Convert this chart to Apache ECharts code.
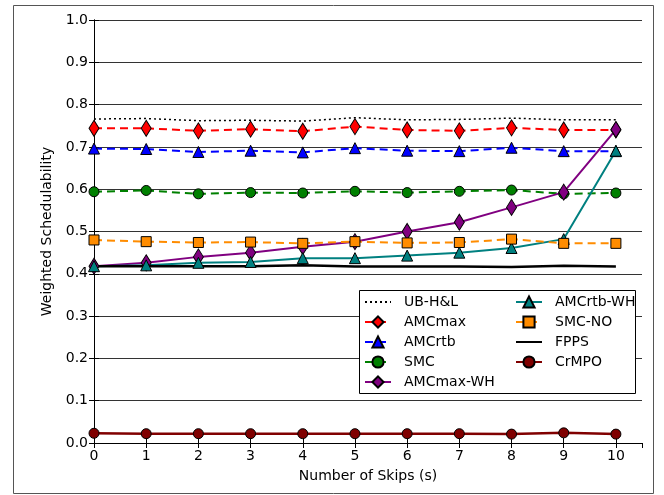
<!DOCTYPE html>
<html>
<head>
<meta charset="utf-8">
<script src="https://cdn.jsdelivr.net/npm/echarts@6/dist/echarts.min.js"></script>
<style>html,body{margin:0;padding:0;background:#fff}#c{width:664px;height:495px}</style>
</head>
<body>
<div id="c"></div>
<script>
var skips = [0, 1, 2, 3, 4, 5, 6, 7, 8, 9, 10];
var yTicks = [0, 0.1, 0.2, 0.3, 0.4, 0.5, 0.6, 0.7, 0.8, 0.9, 1.0];
var ubHL      = [0.766, 0.767, 0.762, 0.763, 0.761, 0.769, 0.764, 0.765, 0.768, 0.764, 0.764];
var amcMax    = [0.744, 0.744, 0.738, 0.742, 0.737, 0.748, 0.740, 0.738, 0.745, 0.740, 0.740];
var amcRtb    = [0.696, 0.695, 0.688, 0.691, 0.687, 0.697, 0.691, 0.690, 0.698, 0.690, 0.690];
var smc       = [0.594, 0.597, 0.589, 0.592, 0.591, 0.595, 0.592, 0.595, 0.598, 0.589, 0.591];
var amcMaxWH  = [0.418, 0.426, 0.440, 0.450, 0.464, 0.476, 0.500, 0.522, 0.557, 0.593, 0.741];
var amcRtbWH  = [0.418, 0.420, 0.426, 0.428, 0.437, 0.437, 0.443, 0.450, 0.461, 0.482, 0.691];
var smcNO     = [0.480, 0.476, 0.474, 0.475, 0.472, 0.476, 0.473, 0.474, 0.482, 0.472, 0.472];
var fpps      = [0.418, 0.418, 0.418, 0.418, 0.420, 0.417, 0.417, 0.417, 0.416, 0.419, 0.417];
var crMPO     = [0.023, 0.022, 0.022, 0.022, 0.022, 0.022, 0.022, 0.022, 0.021, 0.024, 0.021];

function pairs(arr) { return skips.map(function (x, i) { return [x, arr[i]]; }); }

var FONT = 'DejaVu Sans';
function mk(name, data, color, lineType, symbol, size, width) {
  return {
    name: name, type: 'line', data: pairs(data),
    symbol: symbol || 'none', symbolSize: size || 4,
    lineStyle: { color: color, width: width || 2, type: lineType },
    itemStyle: { color: color, borderColor: '#000', borderWidth: 1 },
    emphasis: { disabled: true }, clip: true
  };
}

var series = [
  mk('UB-H&L', ubHL, '#000', [2, 3], null, 0, 1.5),
  mk('AMCmax', amcMax, '#ff0000', [8, 5], 'diamond', [10, 16]),
  mk('AMCrtb', amcRtb, '#0000ff', [8, 5], 'triangle', 11),
  mk('SMC', smc, '#008000', [8, 5], 'circle', 10),
  mk('AMCmax-WH', amcMaxWH, '#800080', 'solid', 'diamond', [10, 16]),
  mk('AMCrtb-WH', amcRtbWH, '#008080', 'solid', 'triangle', 11),
  mk('SMC-NO', smcNO, '#ff8c00', [8, 5], 'rect', 10),
  mk('FPPS', fpps, '#000', 'solid', null, 0, 2.5),
  mk('CrMPO', crMPO, '#800000', 'solid', 'circle', 10, 2.5)
];

var legendBase = {
  orient: 'vertical', padding: 0, itemWidth: 26, itemHeight: 14, itemGap: 6,
  textStyle: { fontFamily: FONT, fontSize: 14, color: '#000', lineHeight: 14, padding: [0, 0, 0, 8] },
  z: 20, selectedMode: false
};
var hideSym = { opacity: 0 };

var chart = echarts.init(document.getElementById('c'), null, { renderer: 'canvas' });
chart.setOption({
  animation: false,
  backgroundColor: '#fff',
  grid: { left: 94, right: 22, top: 20, bottom: 52 },
  xAxis: [{
    type: 'value', min: 0, max: 10.5, interval: 1,
    name: 'Number of Skips (s)', nameLocation: 'middle', nameGap: 26,
    nameTextStyle: { fontFamily: FONT, fontSize: 14, color: '#000' },
    axisLine: { onZero: false, lineStyle: { color: '#000', width: 1 } },
    axisTick: { inside: true, length: 5, lineStyle: { color: '#000' } },
    axisLabel: { fontFamily: FONT, fontSize: 14, color: '#000', margin: 6, showMaxLabel: false,
      formatter: function (v) { return skips.indexOf(v) >= 0 ? String(v) : ''; } },
    splitLine: { show: false }
  }, {
    type: 'value', min: 0, max: 10.5, interval: 1, position: 'top',
    axisLine: { lineStyle: { color: '#000', width: 1 } },
    axisTick: { inside: true, length: 5, lineStyle: { color: '#000' } },
    axisLabel: { show: false }, splitLine: { show: false }
  }],
  yAxis: [{
    type: 'value', min: 0, max: 1, interval: 0.1,
    name: 'Weighted Schedulability', nameLocation: 'middle', nameGap: 25,
    nameTextStyle: { fontFamily: FONT, fontSize: 14, color: '#000' },
    axisLine: { show: true, lineStyle: { color: '#000', width: 1 } },
    axisTick: { inside: true, length: 5, lineStyle: { color: '#000' } },
    axisLabel: { fontFamily: FONT, fontSize: 14, color: '#000', margin: 6,
      formatter: function (v) { return v.toFixed(1); } },
    splitLine: { show: true, lineStyle: { color: '#333', width: 1 } }
  }, {
    type: 'value', min: 0, max: 1, interval: 0.1, position: 'right',
    axisLine: { show: true, lineStyle: { color: '#000', width: 1 } },
    axisTick: { inside: true, length: 5, lineStyle: { color: '#000' } },
    axisLabel: { show: false }, splitLine: { show: false }
  }],
  legend: [
    Object.assign({}, legendBase, { left: 364, top: 295,
      data: [{ name: 'UB-H&L', itemStyle: hideSym }, 'AMCmax', 'AMCrtb', 'SMC', 'AMCmax-WH'] }),
    Object.assign({}, legendBase, { left: 515, top: 295,
      data: ['AMCrtb-WH', 'SMC-NO', { name: 'FPPS', itemStyle: hideSym }, 'CrMPO'] })
  ],
  graphic: [
    { type: 'rect', shape: { x: 13.5, y: 5.5, width: 640, height: 488 },
      style: { fill: 'none', stroke: '#555', lineWidth: 1 }, z: 0, silent: true },
    { type: 'rect', shape: { x: 359.5, y: 290.5, width: 276, height: 103 },
      style: { fill: '#fff', stroke: '#000', lineWidth: 1 }, z: 15, silent: true }
  ],
  series: series
});
</script>
</body>
</html>
